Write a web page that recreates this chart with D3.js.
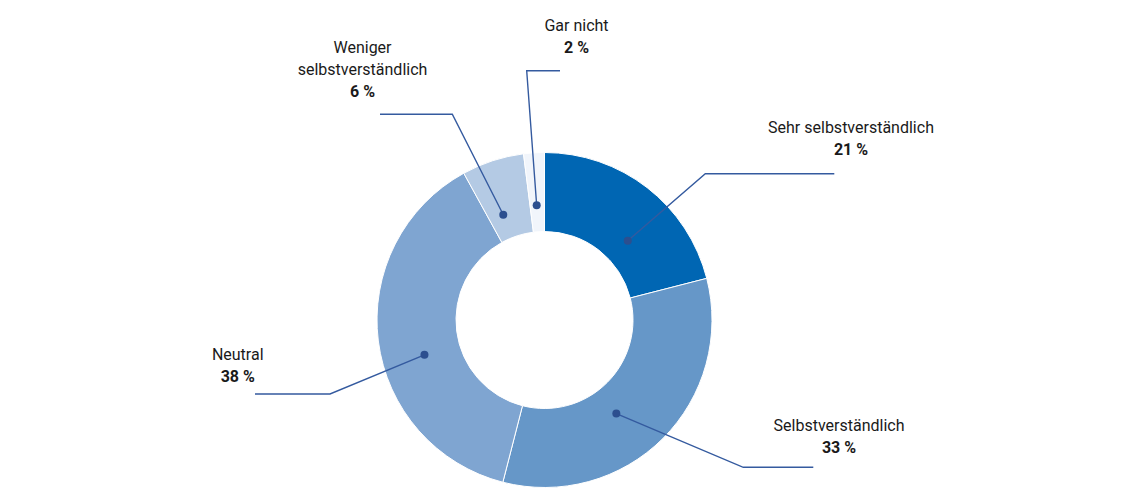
<!DOCTYPE html>
<html><head><meta charset="utf-8">
<script src="https://cdn.jsdelivr.net/npm/d3@7"></script>
<style>
html,body{margin:0;padding:0;background:#fff;}
svg{display:block;font-family:Roboto,"Noto Sans",sans-serif;}
</style></head>
<body>
<svg id="chart" width="1140" height="503"></svg>
<script>
// Data
const categories = ["Sehr selbstverständlich", "Selbstverständlich", "Neutral", "Weniger selbstverständlich", "Gar nicht"];
const labelLines = [["Sehr selbstverständlich"], ["Selbstverständlich"], ["Neutral"], ["Weniger", "selbstverständlich"], ["Gar nicht"]];
const values = [21, 33, 38, 6, 2];
const colors = ["#0066b3", "#6697c8", "#7fa5d1", "#b4cae4", "#f1f5fb"];

// Annotation layout (relative to pie centre)
const layout = [
  {nudge: 8.6,  r: 115, elbow: [160.8, -146.3], endX: 289.8, labelX: 306.5, baseY: -187.3},
  {nudge: 7.5,  r: 118, elbow: [198.8, 147.3],  endX: 268.8, labelX: 294.5, baseY: 110.7},
  {nudge: -9,   r: 125, elbow: [-214.5, 74],    endX: -289.5, labelX: -306.8, baseY: 40},
  {nudge: -3.4, r: 113, elbow: [-92.2, -205.7], endX: -164.5, labelX: -182, baseY: -267},
  {nudge: -0.3, r: 115, elbow: [-17.8, -249.3], endX: 15.5,  labelX: 32,   baseY: -289}
];

const cx = 544.5, cy = 320, outerR = 167.5, innerR = 88.5, lineH = 21.8;
const svg = d3.select("#chart");
const g = svg.append("g").attr("transform", `translate(${cx},${cy})`);

const data = categories.map((c, i) => ({name: c, value: values[i], i}));
const pie = d3.pie().value(d => d.value).sort(null);
const arcs = pie(data);
const arc = d3.arc().innerRadius(innerR).outerRadius(outerR);

g.selectAll("path.slice").data(arcs).join("path")
  .attr("class", "slice")
  .attr("d", arc)
  .attr("fill", d => colors[d.data.i])
  .attr("stroke", "#fff").attr("stroke-width", 1);

const lineColor = "#345a9f";
arcs.forEach((a, i) => {
  const L = layout[i];
  const ang = (a.startAngle + a.endAngle) / 2 + L.nudge * Math.PI / 180;
  const dx = Math.sin(ang) * L.r, dy = -Math.cos(ang) * L.r;
  g.append("polyline")
    .attr("points", [[dx, dy], L.elbow, [L.endX, L.elbow[1]]].map(p => p.join(",")).join(" "))
    .attr("fill", "none").attr("stroke", lineColor).attr("stroke-width", 1.4);
  g.append("circle").attr("cx", dx).attr("cy", dy).attr("r", 4).attr("fill", "#2c4f8f");
  const t = g.append("text").attr("text-anchor", "middle").attr("font-size", 16).attr("fill", "#1a1a1a");
  const lines = labelLines[i];
  lines.forEach((ln, k) => {
    t.append("tspan").attr("x", L.labelX).attr("y", L.baseY + k * lineH).text(ln);
  });
  t.append("tspan").attr("x", L.labelX).attr("y", L.baseY + lines.length * lineH)
    .attr("font-weight", "bold").text(a.data.value + " %");
});
</script>
</body></html>
